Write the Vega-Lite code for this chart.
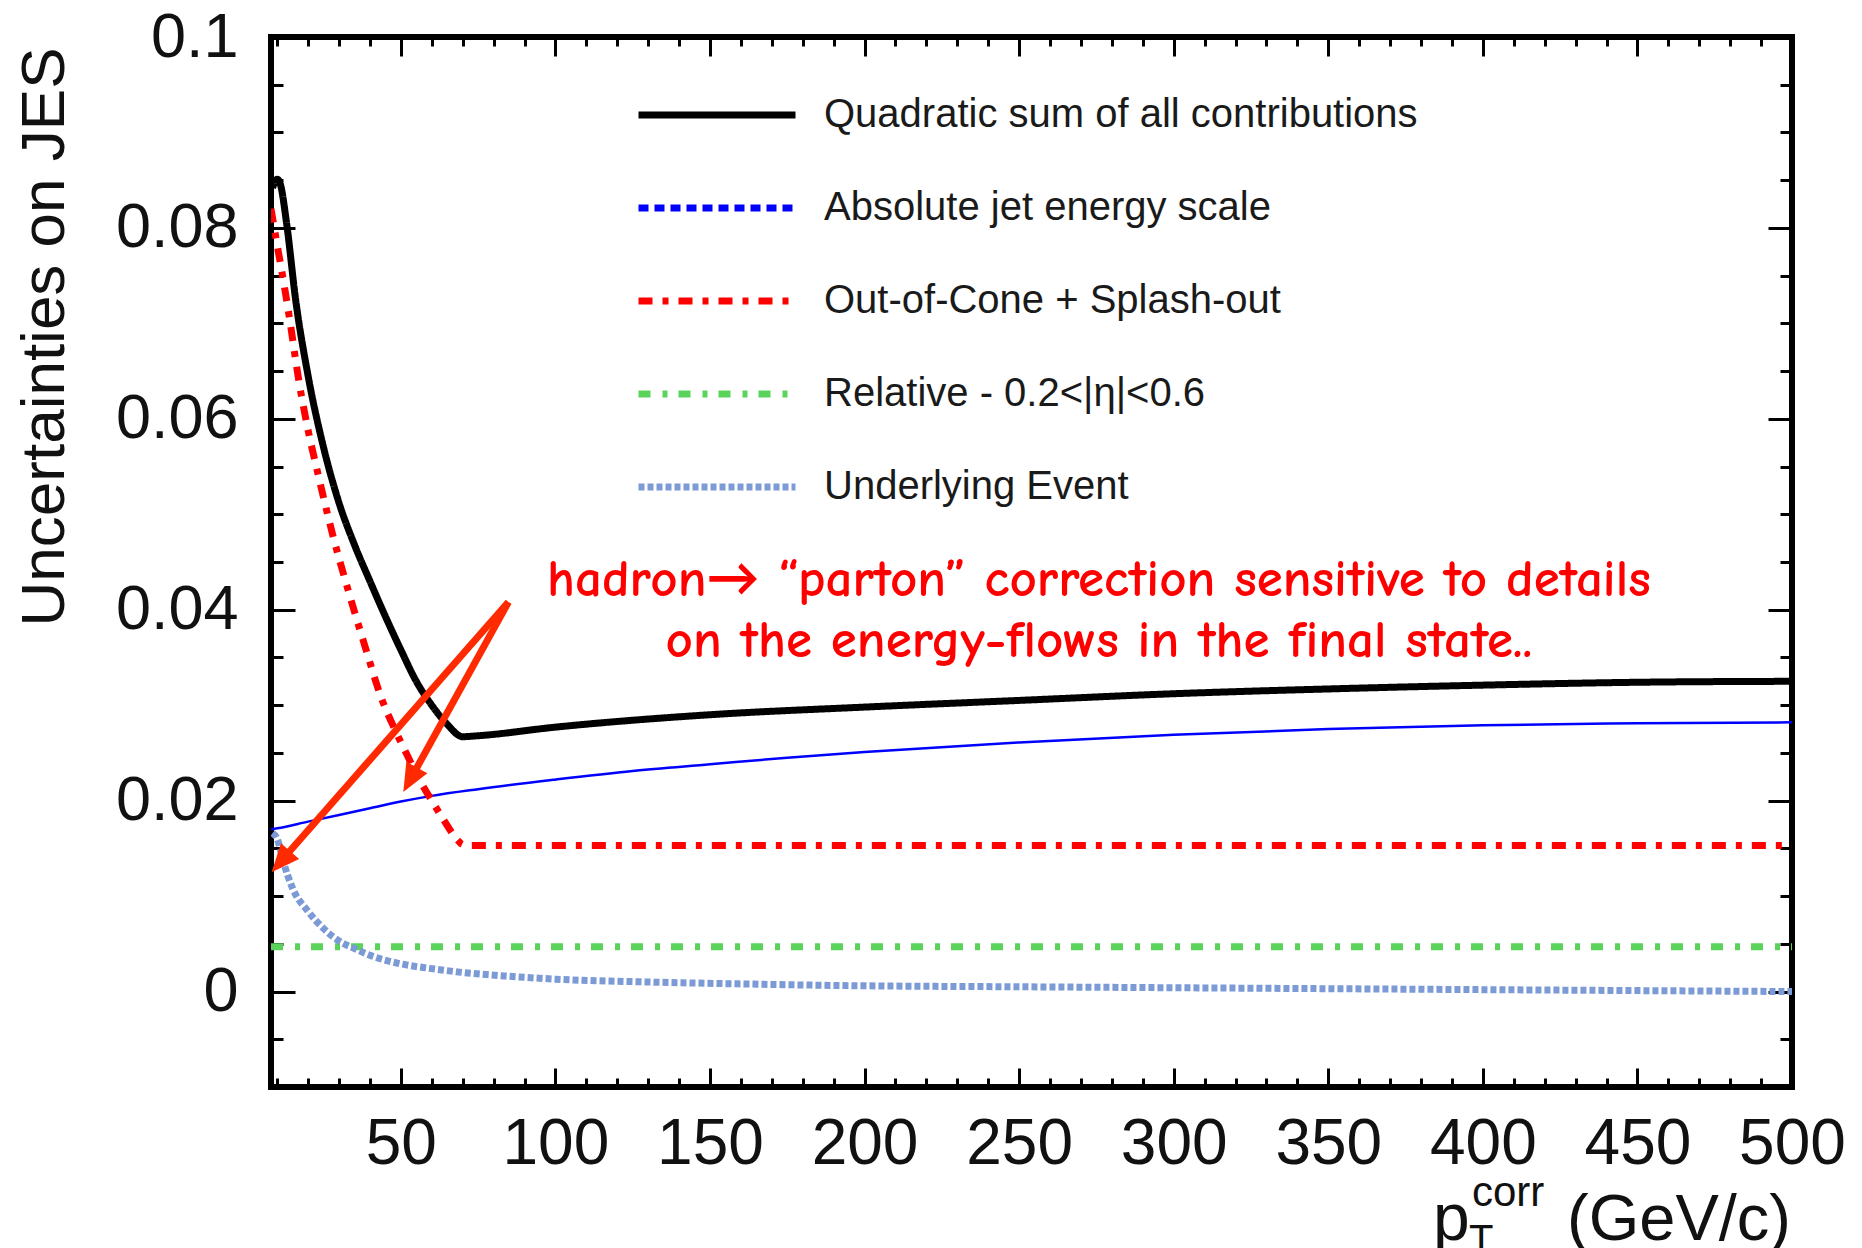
{
  "$schema": "https://vega.github.io/schema/vega-lite/v6.json",
  "width": 1521,
  "height": 1050,
  "autosize": {"type": "none"},
  "padding": {"left": 271, "top": 37, "right": 70, "bottom": 161},
  "background": "white",
  "config": {
    "view": {"stroke": "black", "strokeWidth": 6},
    "font": "Liberation Sans",
    "axis": {
      "domain": false,
      "grid": false,
      "tickColor": "black",
      "tickWidth": 3,
      "labelColor": "#111111",
      "labelFont": "Liberation Sans",
      "labelOverlap": false,
      "labelFlush": false,
      "labelBound": false,
      "titleFont": "Liberation Sans",
      "titleColor": "#111111",
      "titleFontWeight": "normal"
    },
    "legend": {
      "orient": "none",
      "legendX": 364,
      "legendY": 55,
      "direction": "vertical",
      "padding": 0,
      "symbolType": "stroke",
      "symbolSize": 24649,
      "symbolStrokeWidth": 7,
      "clipHeight": 46,
      "rowPadding": 47,
      "labelOffset": 25,
      "labelFont": "Liberation Sans",
      "labelFontSize": 40,
      "labelColor": "#1a1a1a",
      "labelLimit": 0
    }
  },
  "datasets": {
    "curves": [
      {"series": "Relative - 0.2<|η|<0.6", "pt": 8, "unc": 0.0047},
      {"series": "Relative - 0.2<|η|<0.6", "pt": 500, "unc": 0.0047},

      {"series": "Absolute jet energy scale", "pt": 8, "unc": 0.0170},
      {"series": "Absolute jet energy scale", "pt": 10, "unc": 0.0171},
      {"series": "Absolute jet energy scale", "pt": 20, "unc": 0.0178},
      {"series": "Absolute jet energy scale", "pt": 30, "unc": 0.0185},
      {"series": "Absolute jet energy scale", "pt": 40, "unc": 0.0192},
      {"series": "Absolute jet energy scale", "pt": 50, "unc": 0.0199},
      {"series": "Absolute jet energy scale", "pt": 60, "unc": 0.0205},
      {"series": "Absolute jet energy scale", "pt": 75, "unc": 0.0212},
      {"series": "Absolute jet energy scale", "pt": 100, "unc": 0.0222},
      {"series": "Absolute jet energy scale", "pt": 125, "unc": 0.0231},
      {"series": "Absolute jet energy scale", "pt": 150, "unc": 0.0238},
      {"series": "Absolute jet energy scale", "pt": 175, "unc": 0.0245},
      {"series": "Absolute jet energy scale", "pt": 200, "unc": 0.0251},
      {"series": "Absolute jet energy scale", "pt": 250, "unc": 0.0261},
      {"series": "Absolute jet energy scale", "pt": 300, "unc": 0.0269},
      {"series": "Absolute jet energy scale", "pt": 350, "unc": 0.0275},
      {"series": "Absolute jet energy scale", "pt": 400, "unc": 0.0279},
      {"series": "Absolute jet energy scale", "pt": 450, "unc": 0.0281},
      {"series": "Absolute jet energy scale", "pt": 500, "unc": 0.0282},

      {"series": "Underlying Event", "pt": 8.5, "unc": 0.0166},
      {"series": "Underlying Event", "pt": 10, "unc": 0.0160},
      {"series": "Underlying Event", "pt": 12, "unc": 0.0136},
      {"series": "Underlying Event", "pt": 15, "unc": 0.0108},
      {"series": "Underlying Event", "pt": 20, "unc": 0.0084},
      {"series": "Underlying Event", "pt": 25, "unc": 0.0066},
      {"series": "Underlying Event", "pt": 30, "unc": 0.0053},
      {"series": "Underlying Event", "pt": 35, "unc": 0.0045},
      {"series": "Underlying Event", "pt": 40, "unc": 0.0038},
      {"series": "Underlying Event", "pt": 50, "unc": 0.0029},
      {"series": "Underlying Event", "pt": 60, "unc": 0.0024},
      {"series": "Underlying Event", "pt": 70, "unc": 0.0020},
      {"series": "Underlying Event", "pt": 85, "unc": 0.0016},
      {"series": "Underlying Event", "pt": 100, "unc": 0.0013},
      {"series": "Underlying Event", "pt": 130, "unc": 0.0010},
      {"series": "Underlying Event", "pt": 160, "unc": 0.0008},
      {"series": "Underlying Event", "pt": 200, "unc": 0.0006},
      {"series": "Underlying Event", "pt": 250, "unc": 0.0005},
      {"series": "Underlying Event", "pt": 300, "unc": 0.0004},
      {"series": "Underlying Event", "pt": 350, "unc": 0.0003},
      {"series": "Underlying Event", "pt": 400, "unc": 0.0002},
      {"series": "Underlying Event", "pt": 450, "unc": 0.0001},
      {"series": "Underlying Event", "pt": 500, "unc": 0.0000},

      {"series": "Out-of-Cone + Splash-out", "pt": 8, "unc": 0.0820},
      {"series": "Out-of-Cone + Splash-out", "pt": 10, "unc": 0.0782},
      {"series": "Out-of-Cone + Splash-out", "pt": 12, "unc": 0.0745},
      {"series": "Out-of-Cone + Splash-out", "pt": 14, "unc": 0.0705},
      {"series": "Out-of-Cone + Splash-out", "pt": 17, "unc": 0.0640},
      {"series": "Out-of-Cone + Splash-out", "pt": 20, "unc": 0.0588},
      {"series": "Out-of-Cone + Splash-out", "pt": 23, "unc": 0.0545},
      {"series": "Out-of-Cone + Splash-out", "pt": 28, "unc": 0.0478},
      {"series": "Out-of-Cone + Splash-out", "pt": 33, "unc": 0.0420},
      {"series": "Out-of-Cone + Splash-out", "pt": 38, "unc": 0.0366},
      {"series": "Out-of-Cone + Splash-out", "pt": 44, "unc": 0.0305},
      {"series": "Out-of-Cone + Splash-out", "pt": 48, "unc": 0.0275},
      {"series": "Out-of-Cone + Splash-out", "pt": 52, "unc": 0.0248},
      {"series": "Out-of-Cone + Splash-out", "pt": 56, "unc": 0.0222},
      {"series": "Out-of-Cone + Splash-out", "pt": 60, "unc": 0.0200},
      {"series": "Out-of-Cone + Splash-out", "pt": 64, "unc": 0.0179},
      {"series": "Out-of-Cone + Splash-out", "pt": 68, "unc": 0.0160},
      {"series": "Out-of-Cone + Splash-out", "pt": 70, "unc": 0.0154},
      {"series": "Out-of-Cone + Splash-out", "pt": 72, "unc": 0.0153},
      {"series": "Out-of-Cone + Splash-out", "pt": 500, "unc": 0.0153},

      {"series": "Quadratic sum of all contributions", "pt": 8.5, "unc": 0.0842},
      {"series": "Quadratic sum of all contributions", "pt": 10, "unc": 0.0851},
      {"series": "Quadratic sum of all contributions", "pt": 11, "unc": 0.0846},
      {"series": "Quadratic sum of all contributions", "pt": 13, "unc": 0.0806},
      {"series": "Quadratic sum of all contributions", "pt": 16, "unc": 0.0724},
      {"series": "Quadratic sum of all contributions", "pt": 20, "unc": 0.0645},
      {"series": "Quadratic sum of all contributions", "pt": 25, "unc": 0.0570},
      {"series": "Quadratic sum of all contributions", "pt": 30, "unc": 0.0512},
      {"series": "Quadratic sum of all contributions", "pt": 35, "unc": 0.0468},
      {"series": "Quadratic sum of all contributions", "pt": 40, "unc": 0.0430},
      {"series": "Quadratic sum of all contributions", "pt": 45, "unc": 0.0393},
      {"series": "Quadratic sum of all contributions", "pt": 50, "unc": 0.0358},
      {"series": "Quadratic sum of all contributions", "pt": 55, "unc": 0.0325},
      {"series": "Quadratic sum of all contributions", "pt": 60, "unc": 0.0300},
      {"series": "Quadratic sum of all contributions", "pt": 65, "unc": 0.0280},
      {"series": "Quadratic sum of all contributions", "pt": 70, "unc": 0.0267},
      {"series": "Quadratic sum of all contributions", "pt": 75, "unc": 0.0268},
      {"series": "Quadratic sum of all contributions", "pt": 100, "unc": 0.0277},
      {"series": "Quadratic sum of all contributions", "pt": 150, "unc": 0.0290},
      {"series": "Quadratic sum of all contributions", "pt": 200, "unc": 0.0298},
      {"series": "Quadratic sum of all contributions", "pt": 250, "unc": 0.0305},
      {"series": "Quadratic sum of all contributions", "pt": 300, "unc": 0.0312},
      {"series": "Quadratic sum of all contributions", "pt": 350, "unc": 0.0317},
      {"series": "Quadratic sum of all contributions", "pt": 400, "unc": 0.0321},
      {"series": "Quadratic sum of all contributions", "pt": 450, "unc": 0.0324},
      {"series": "Quadratic sum of all contributions", "pt": 500, "unc": 0.0325}
    ],
    "shafts": [
      {"pt": 84.8, "unc": 0.0408, "pt2": 11.0, "unc2": 0.01357},
      {"pt": 84.8, "unc": 0.0408, "pt2": 53.2, "unc2": 0.0223}
    ],
    "notes": [
      {"pt": 275.8, "unc": 0.0414, "note": "hadron→ “parton” correction sensitive to details"},
      {"pt": 275.8, "unc": 0.0350, "note": "on the energy-flows in the final state.."}
    ]
  },
  "resolve": {"axis": {"x": "independent", "y": "independent"}},
  "layer": [
    {
      "data": {"name": "curves"},
      "transform": [{"filter": "datum.series === 'Absolute jet energy scale'"}],
      "mark": {"type": "line", "interpolate": "monotone", "clip": true, "strokeWidth": 2.5},
      "encoding": {
        "x": {
          "field": "pt", "type": "quantitative",
          "scale": {"domain": [8, 500], "nice": false, "zero": false},
          "axis": {
            "orient": "bottom",
            "values": [10,20,30,40,50,60,70,80,90,100,110,120,130,140,150,160,170,180,190,200,210,220,230,240,250,260,270,280,290,300,310,320,330,340,350,360,370,380,390,400,410,420,430,440,450,460,470,480,490,500],
            "tickSize": {"condition": {"test": "datum.value % 50 === 0", "value": -19}, "value": -9},
            "labelExpr": "datum.value % 50 === 0 ? datum.label : ''",
            "labelFontSize": 64,
            "labelPadding": 44,
            "title": null
          }
        },
        "y": {
          "field": "unc", "type": "quantitative",
          "scale": {"domain": [-0.01, 0.1], "nice": false, "zero": false},
          "axis": {
            "orient": "left",
            "values": [-0.005,0,0.005,0.01,0.015,0.02,0.025,0.03,0.035,0.04,0.045,0.05,0.055,0.06,0.065,0.07,0.075,0.08,0.085,0.09,0.095,0.1],
            "tickSize": {"condition": {"test": "abs(datum.value * 50 - round(datum.value * 50)) < 1e-6", "value": -24}, "value": -12},
            "labelExpr": "abs(datum.value * 50 - round(datum.value * 50)) < 1e-6 ? format(datum.value, '.2~f') : ''",
            "labelFontSize": 63,
            "labelPadding": 57,
            "title": "Uncertainties on JES",
            "titleFontSize": 62,
            "titleAngle": 270,
            "titleAlign": "right",
            "titleBaseline": "middle",
            "titleX": -227,
            "titleY": 10
          }
        },
        "color": {
          "field": "series", "type": "nominal",
          "scale": {
            "domain": ["Quadratic sum of all contributions", "Absolute jet energy scale", "Out-of-Cone + Splash-out", "Relative - 0.2<|η|<0.6", "Underlying Event"],
            "range": ["#000000", "#0000ff", "#ff0000", "#5ad35a", "#7b9ad6"]
          },
          "legend": {
            "title": null,
            "encode": {"symbols": {"update": {"strokeWidth": {"value": 7}}}}
          }
        }
      }
    },
    {
      "data": {"name": "curves"},
      "transform": [{"filter": "datum.series !== 'Absolute jet energy scale'"}],
      "mark": {"type": "line", "interpolate": "monotone", "clip": true, "strokeWidth": 7, "strokeCap": "butt"},
      "encoding": {
        "x": {"field": "pt", "type": "quantitative", "axis": null},
        "y": {"field": "unc", "type": "quantitative", "axis": null},
        "color": {
          "field": "series", "type": "nominal",
          "legend": {
            "title": null,
            "encode": {"symbols": {"update": {"strokeWidth": {"value": 7}}}}
          }
        },
        "strokeDash": {
          "field": "series", "type": "nominal",
          "scale": {
            "domain": ["Quadratic sum of all contributions", "Absolute jet energy scale", "Out-of-Cone + Splash-out", "Relative - 0.2<|η|<0.6", "Underlying Event"],
            "range": [[1, 0], [10, 6], [14, 10, 6, 10], [12, 12, 5, 11], [6, 3]]
          },
          "legend": {
            "title": null,
            "encode": {"symbols": {"update": {"strokeWidth": {"value": 7}}}}
          }
        }
      }
    },
    {
      "data": {"name": "shafts"},
      "mark": {"type": "rule", "color": "#ff2a00", "strokeWidth": 7, "strokeCap": "butt"},
      "encoding": {
        "x": {
          "field": "pt", "type": "quantitative",
          "axis": {
            "orient": "top",
            "values": [10,20,30,40,50,60,70,80,90,100,110,120,130,140,150,160,170,180,190,200,210,220,230,240,250,260,270,280,290,300,310,320,330,340,350,360,370,380,390,400,410,420,430,440,450,460,470,480,490],
            "tickSize": {"condition": {"test": "datum.value % 50 === 0", "value": -19}, "value": -9},
            "labels": false,
            "title": null
          }
        },
        "y": {
          "field": "unc", "type": "quantitative",
          "axis": {
            "orient": "right",
            "values": [-0.005,0,0.005,0.01,0.015,0.02,0.025,0.03,0.035,0.04,0.045,0.05,0.055,0.06,0.065,0.07,0.075,0.08,0.085,0.09,0.095],
            "tickSize": {"condition": {"test": "abs(datum.value * 50 - round(datum.value * 50)) < 1e-6", "value": -24}, "value": -12},
            "labels": false,
            "title": null
          }
        },
        "x2": {"field": "pt2"},
        "y2": {"field": "unc2"}
      }
    },
    {
      "data": {"values": [{"pt": 8.2, "unc": 0.0125}]},
      "mark": {"type": "point", "shape": "M0,0L-0.43,1L0.43,1Z", "filled": true, "size": 3136, "angle": 221.2, "color": "#ff2a00", "opacity": 1, "strokeWidth": 0},
      "encoding": {
        "x": {"field": "pt", "type": "quantitative", "axis": null},
        "y": {"field": "unc", "type": "quantitative", "axis": null}
      }
    },
    {
      "data": {"values": [{"pt": 50.8, "unc": 0.0209}]},
      "mark": {"type": "point", "shape": "M0,0L-0.43,1L0.43,1Z", "filled": true, "size": 3136, "angle": 208.9, "color": "#ff2a00", "opacity": 1, "strokeWidth": 0},
      "encoding": {
        "x": {"field": "pt", "type": "quantitative", "axis": null},
        "y": {"field": "unc", "type": "quantitative", "axis": null}
      }
    },
    {
      "data": {"name": "notes"},
      "mark": {"type": "text", "align": "center", "baseline": "alphabetic", "color": "#ff0000", "font": "'Comic Sans MS', 'Comic Neue', Lato, sans-serif", "fontSize": 53, "fontWeight": "bold"},
      "encoding": {
        "x": {"field": "pt", "type": "quantitative", "axis": null},
        "y": {"field": "unc", "type": "quantitative", "axis": null},
        "text": {"field": "note"}
      }
    },
    {
      "data": {"values": [{"part": "(GeV/c)"}]},
      "mark": {"type": "text", "align": "right", "baseline": "alphabetic", "dx": -1, "dy": 153, "fontSize": 65, "color": "#111111", "font": "Liberation Sans"},
      "encoding": {
        "x": {"datum": 500, "type": "quantitative", "axis": null},
        "y": {"datum": -0.01, "type": "quantitative", "axis": null},
        "text": {"field": "part"}
      }
    },
    {
      "data": {"values": [{"part": "p"}]},
      "mark": {"type": "text", "align": "left", "baseline": "alphabetic", "dx": -359, "dy": 153, "fontSize": 66, "color": "#111111", "font": "Liberation Sans"},
      "encoding": {
        "x": {"datum": 500, "type": "quantitative", "axis": null},
        "y": {"datum": -0.01, "type": "quantitative", "axis": null},
        "text": {"field": "part"}
      }
    },
    {
      "data": {"values": [{"part": "corr"}]},
      "mark": {"type": "text", "align": "left", "baseline": "alphabetic", "dx": -320, "dy": 119, "fontSize": 42, "color": "#111111", "font": "Liberation Sans"},
      "encoding": {
        "x": {"datum": 500, "type": "quantitative", "axis": null},
        "y": {"datum": -0.01, "type": "quantitative", "axis": null},
        "text": {"field": "part"}
      }
    },
    {
      "data": {"values": [{"part": "T"}]},
      "mark": {"type": "text", "align": "left", "baseline": "alphabetic", "dx": -323, "dy": 166, "fontSize": 40, "color": "#111111", "font": "Liberation Sans"},
      "encoding": {
        "x": {"datum": 500, "type": "quantitative", "axis": null},
        "y": {"datum": -0.01, "type": "quantitative", "axis": null},
        "text": {"field": "part"}
      }
    }
  ]
}
